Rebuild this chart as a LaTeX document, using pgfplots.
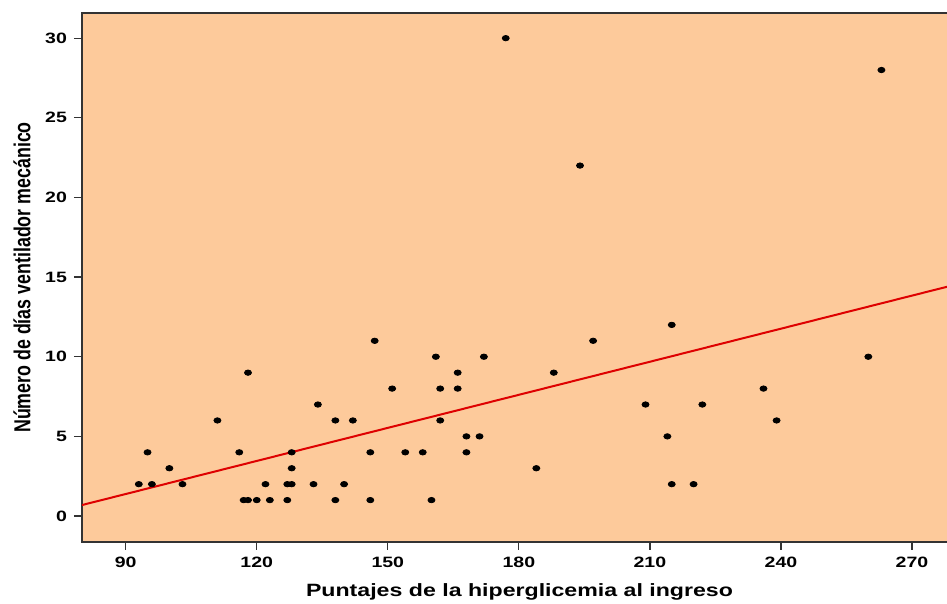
\documentclass[border=0pt]{standalone}
\usepackage{graphicx}
\usepackage{fontspec}
\setmainfont{Liberation Sans}
\newfontfamily\widefont{Liberation Sans}[FakeStretch=1.3]
\usepackage{pgfplots}
\pgfplotsset{compat=1.18}
\definecolor{peach}{RGB}{253,202,155}
\definecolor{fitred}{RGB}{222,0,0}
\begin{document}
\begin{tikzpicture}
\useasboundingbox (-41pt,-31pt) rectangle (432.5pt,271pt);
\begin{axis}[
  at={(0,0)}, anchor=south west,
  scale only axis,
  width=437.5pt, height=264.5pt,
  xmin=80, xmax=280.3,
  ymin=-1.63, ymax=31.58,
  xtick={90,120,150,180,210,240,270},
  ytick={0,5,10,15,20,25,30},
  tick align=outside,
  major tick length=4pt,
  xtick pos=bottom, ytick pos=left,
  axis line style={black!80, line width=0.8pt},
  every tick/.style={black!80, line width=0.6pt},
  axis background/.style={fill=peach},
  /pgf/number format/assume math mode=true,
  tick label style={font=\widefont\bfseries\fontsize{7.5}{8}\selectfont},
  xlabel={Puntajes de la hiperglicemia al ingreso},
  ylabel={\scalebox{1}[1.3]{Número de días ventilador mecánico}},
  every axis x label/.style={at={(axis description cs:0.5,0)}, anchor=center, yshift=-25pt, font=\widefont\bfseries\fontsize{8.9}{10}\selectfont},
  every axis y label/.style={at={(axis description cs:0,0.5)}, rotate=90, anchor=center, yshift=30pt, font=\bfseries\fontsize{8.9}{10}\selectfont},
]
\addplot[fitred, line width=1pt] coordinates {(80,0.69) (280.3,14.55)};
\addplot[only marks, mark=*, mark size=1.35pt, mark options={xscale=1.3, fill=black, draw=black}] coordinates {
(93,2) (95,4) (96,2) (100,3) (103,2) (111,6) (116,4) (117,1) (118,1) (118,9)
(120,1) (122,2) (123,1) (127,2) (127,1) (128,2) (128,3) (128,4) (133,2) (134,7)
(138,6) (138,1) (140,2) (142,6) (146,4) (146,1) (147,11) (151,8) (154,4) (158,4)
(160,1) (161,10) (162,8) (162,6) (166,9) (166,8) (168,5) (168,4) (171,5) (172,10)
(177,30) (184,3) (188,9) (194,22) (197,11) (209,7) (214,5) (215,12) (215,2) (220,2)
(222,7) (236,8) (239,6) (260,10) (263,28)
};
\end{axis}
\end{tikzpicture}
\end{document}
